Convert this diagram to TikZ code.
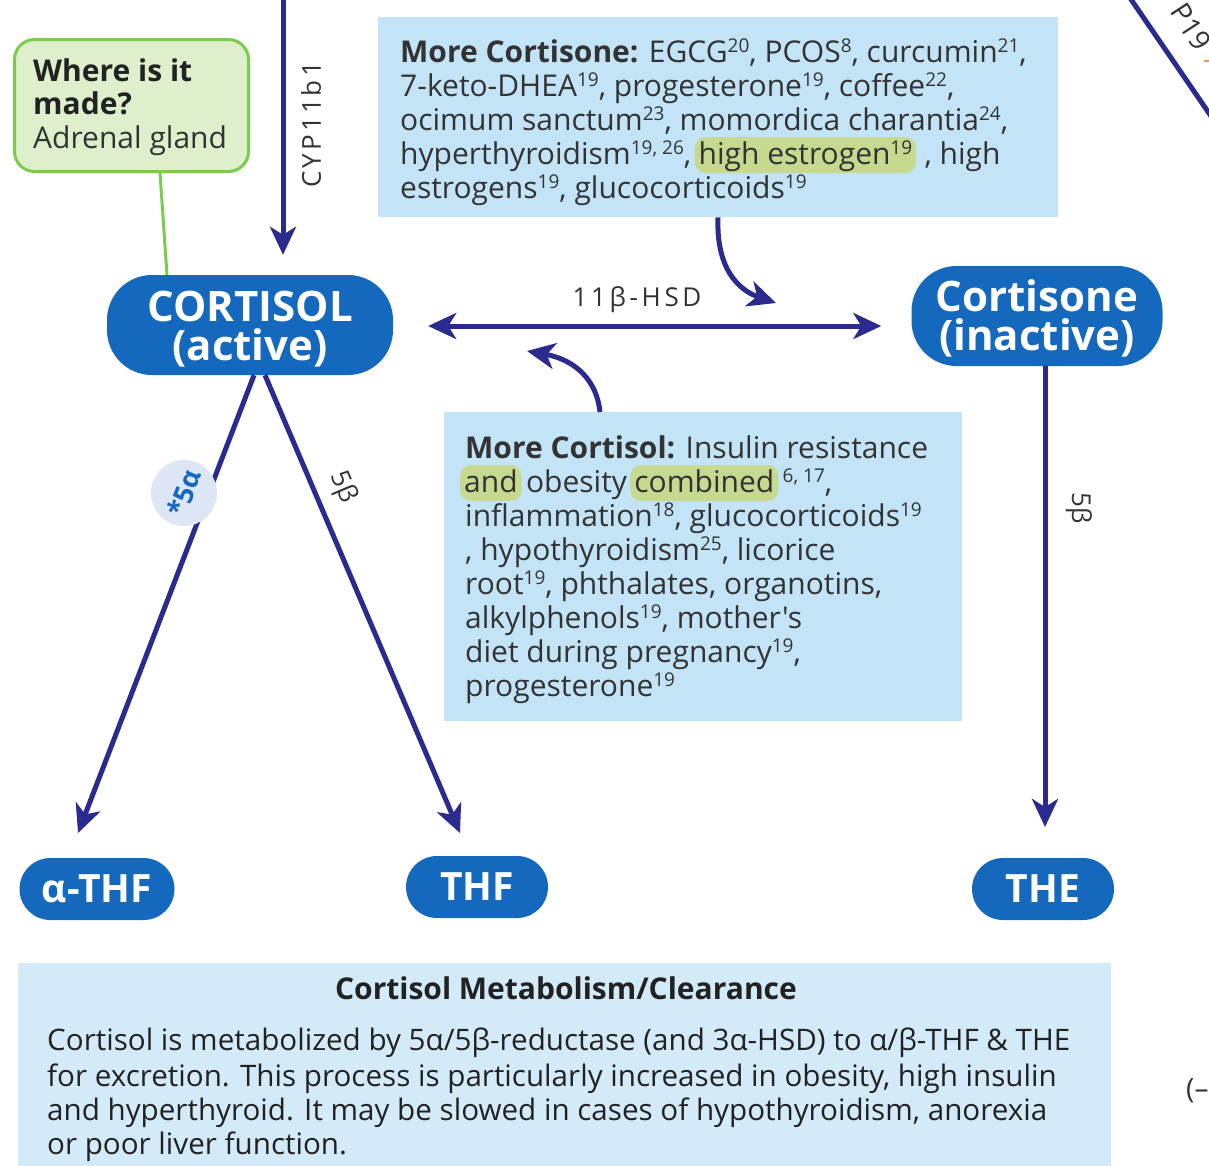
\documentclass[tikz,border=0pt]{standalone}
\usepackage{fontspec}
\setmainfont{Open Sans}
\usetikzlibrary{arrows.meta,calc}
\definecolor{navy}{HTML}{2B2A8E}
\definecolor{pillblue}{HTML}{1468BE}
\definecolor{boxblue}{HTML}{C3E4F6}
\definecolor{lightbox}{HTML}{D3EAF8}
\definecolor{greenfill}{HTML}{DDF0CB}
\definecolor{greenline}{HTML}{7CCB50}
\definecolor{hlgreen}{HTML}{C7D98F}
\definecolor{txtgray}{HTML}{333333}
\definecolor{darktxt}{HTML}{222222}
\definecolor{circfill}{HTML}{DCE6F5}
\definecolor{tickorange}{HTML}{F0A020}
\newcommand\rf[1]{\raisebox{9.5pt}{\fontsize{19}{19}\selectfont #1}}
\newcommand\bodyfs{\fontsize{30}{34}\selectfont}
\begin{document}
\begin{tikzpicture}[x=1pt,y=-1pt,
  flow/.style={draw=navy,line width=5pt,-{Stealth[length=28pt,width=26pt,inset=8pt]}},
  pill/.style={fill=pillblue,text=white,align=center,inner sep=0pt},
  infobox/.style={fill=boxblue,inner sep=0pt,anchor=north west},
  tx/.style={inner sep=0pt,anchor=base west,text=txtgray,font=\bodyfs},
  hl/.style={tx,fill=hlgreen,rounded corners=11pt,inner xsep=4pt,inner ysep=6pt,text height=21pt,text depth=3pt},
  lbl/.style={text=txtgray,font=\fontsize{26}{26}\selectfont,inner sep=0pt},
  btx/.style={inner sep=0pt,anchor=base west,text=darktxt,font=\fontsize{29.6}{34}\selectfont}]
\fill[white] (0,0) rectangle (1209,1165);
\useasboundingbox (0,0) rectangle (1209,1165);

% boxes
\node[infobox,minimum width=680pt,minimum height=200pt] (cortbox) at (378,17) {};
\node[infobox,minimum width=518pt,minimum height=309pt] (solbox) at (444,412) {};
\node[fill=lightbox,inner sep=0pt,anchor=north west,minimum width=1093pt,minimum height=215pt] (clear) at (18,963) {};
\node[fill=greenfill,draw=greenline,line width=3pt,rounded corners=20pt,anchor=north west,minimum width=234pt,minimum height=132pt,inner sep=0pt] (where) at (13,38) {};

% pills
\node[pill,rounded corners=45pt,minimum width=286pt,minimum height=100pt,font=\fontsize{42}{39}\selectfont\bfseries] (cortisol) at (250,325) {\rule{0pt}{38pt}CORTISOL\\(active)};
\node[pill,rounded corners=45pt,minimum width=251pt,minimum height=100pt,font=\fontsize{42}{39}\selectfont\bfseries] (cortisone) at (1037,316) {\rule{0pt}{36pt}Cortisone\\(inactive)};
\node[pill,rounded corners=31pt,minimum width=155pt,minimum height=62pt,font=\fontsize{39}{39}\selectfont\bfseries] (athf) at (97,889) {α-THF};
\node[pill,rounded corners=31pt,minimum width=142pt,minimum height=62pt,font=\fontsize{39}{39}\selectfont\bfseries] (thf) at (477,887) {THF};
\node[pill,rounded corners=31pt,minimum width=142pt,minimum height=62pt,font=\fontsize{39}{39}\selectfont\bfseries] (the) at (1043,889) {THE};

% connectors
\coordinate (topin) at (283,0);
\draw[flow,shorten >=20pt] (topin) -- (topin |- cortisol.north);
\draw[greenline,line width=3pt] (where.south -| 160,0) -- (cortisol.north -| 167,0);
\draw[navy,line width=5pt,{Stealth[length=28pt,width=26pt,inset=8pt]}-{Stealth[length=28pt,width=26pt,inset=8pt]},shorten <=35pt,shorten >=30pt]
  (cortisol.east |- 0,326) -- (cortisone.west |- 0,326);
\coordinate (a1) at (78,833);
\coordinate (a2) at (460,833);
\coordinate (r1) at (1045,827);
\draw[flow] ($(cortisol.south)+(4,0)$) -- (a1);
\draw[flow] ($(cortisol.south)+(15,0)$) -- (a2);
\draw[flow] (cortisone.south -| r1) -- (r1);
\coordinate (c1) at (776,303);
\draw[flow] (cortbox.south -| 718,0) .. controls (716,268) and (738,290) .. (c1);
\coordinate (c2) at (527,351);
\draw[flow] (solbox.north -| 600,0) .. controls (597,382) and (577,360) .. (c2);

% connector labels
\node[lbl,rotate=90,font=\fontsize{26}{26}\selectfont\addfontfeature{LetterSpace=12}] (cyp) at (311,125) {CYP11b1};
\node[lbl,font=\fontsize{26}{26}\selectfont\addfontfeature{LetterSpace=14}] (hsd) at (637,300) {11β-HSD};
\node[circle,fill=circfill,minimum size=66pt,inner sep=0pt,text=pillblue,font=\fontsize{27}{27}\selectfont\bfseries,rotate=69] (c5a) at (184,493) {*5α};
\node[lbl,rotate=-67] (b5a) at (343,487) {5β};
\node[lbl,rotate=-90] (b5b) at (1079,508) {5β};

% green box text
\node[tx,font=\bodyfs\bfseries,text=darktxt] (w1) at (33,81) {Where is it};
\node[tx,font=\bodyfs\bfseries,text=darktxt] (w2) at (33,114) {made?};
\node[tx] (w3) at (33,148) {Adrenal gland};

% More Cortisone
\node[tx] (m1) at (400,62) {\textbf{More Cortisone:} EGCG\rf{20}, PCOS\rf{8}, curcumin\rf{21},};
\node[tx] (m2) at (400,96) {7-keto-DHEA\rf{19}, progesterone\rf{19}, coffee\rf{22},};
\node[tx] (m3) at (400,130) {ocimum sanctum\rf{23}, momordica charantia\rf{24},};
\node[tx] (m4a) at (400,164) {hyperthyroidism\rf{19, 26},};
\node[hl] (m4b) at ($(m4a.base east)+(3,0)$) {high estrogen\rf{19}};
\node[tx] (m4c) at ($(m4b.base east)+(8,0)$) {, high};
\node[tx] (m5) at (400,198) {estrogens\rf{19}, glucocorticoids\rf{19}};

% More Cortisol
\node[tx] (s1) at (465,458) {\textbf{More Cortisol:} Insulin resistance};
\node[hl] (s2a) at (460,492) {and};
\node[tx] (s2b) at ($(s2a.base east)+(4,0)$) {obesity};
\node[hl] (s2c) at ($(s2b.base east)+(3,0)$) {combined};
\node[tx] (s2d) at ($(s2c.base east)+(4,0)$) {\rf{6, 17},};
\node[tx] (s3) at (465,526) {inflammation\rf{18}, glucocorticoids\rf{19}};
\node[tx] (s4) at (465,560) {, hypothyroidism\rf{25}, licorice};
\node[tx] (s5) at (465,594) {root\rf{19}, phthalates, organotins,};
\node[tx] (s6) at (465,628) {alkylphenols\rf{19}, {\addfontfeature{Ligatures=TeXOff}mother's}};
\node[tx] (s7) at (465,662) {diet during pregnancy\rf{19},};
\node[tx] (s8) at (465,696) {progesterone\rf{19}};

% Clearance box
\node[anchor=base,inner sep=0pt,text=darktxt,font=\fontsize{30}{30}\selectfont\bfseries] (ct) at (566,999) {Cortisol Metabolism/Clearance};
\node[btx] (b1) at (47,1050) {Cortisol is metabolized by 5α/5β-reductase (and 3α-HSD) to α/β-THF \& THE};
\node[btx] (b2) at (47,1086) {for excretion. This process is particularly increased in obesity, high insulin};
\node[btx] (b3) at (47,1120) {and hyperthyroid. It may be slowed in cases of hypothyroidism, anorexia};
\node[btx] (b4) at (47,1154) {or poor liver function.};

% partial elements at the right edge
\coordinate (d1) at (1128,-5);
\coordinate (d2) at (1215,122);
\draw[navy,line width=5pt] (d1) -- (d2);
\node[lbl,rotate=-57,font=\fontsize{28}{28}\selectfont] (p19) at (1191,27) {P19};
\coordinate (o1) at (1204,61);
\coordinate (o2) at (1215,61);
\draw[tickorange,line width=2pt] (o1) -- (o2);
\node[lbl,anchor=west,font=\fontsize{28}{28}\selectfont] (edge) at (1186,1091) {(–};
\end{tikzpicture}
\end{document}
